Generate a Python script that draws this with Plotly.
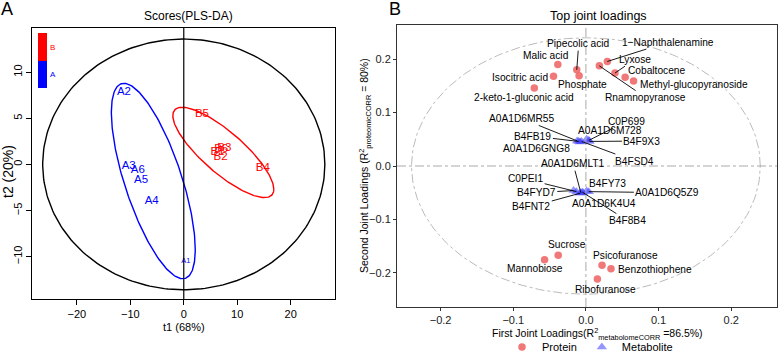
import numpy as np
import plotly.graph_objects as go

# ---------------- Panel A data (PLS-DA scores) ----------------
a_labels = ["A1", "A2", "A3", "A4", "A5", "A6"]
a_t1 = [0.4, -11.2, -10.3, -6.0, -8.0, -8.6]
a_t2 = [-10.5, 7.8, -0.2, -4.0, -1.7, -0.6]
b_labels = ["B1", "B2", "B3", "B4", "B5", "B6"]
b_t1 = [6.3, 6.9, 7.6, 14.8, 3.4, 7.0]
b_t2 = [1.3, 0.8, 1.8, -0.4, 5.5, 1.7]

# ellipses: centre x, centre y, var x, cov xy, var y
ell_a = [-5.7, -1.8, 61.6, -58.3, 112.4]
ell_b = [7.4, 1.3, 89.3, -37.7, 24.0]
ell_all = [0.0, 0.0, 26.4 ** 2, 0.0, 13.6 ** 2]

# ---------------- Panel B data (joint loadings) ----------------
prot_names = ["Malic acid", "Pipecolic acid", "Phosphate", "Isocitric acid",
              "2-keto-1-gluconic acid", "Rnamnopyranose", "1\u2212Naphthalenamine",
              "Lyxose", "Cobaltocene", "Methyl-glucopyranoside",
              "Sucrose", "Mannobiose", "Psicofuranose", "Benzothiophene", "Ribofuranose"]
prot_x = [-0.0387, -0.0126, -0.0094, -0.0446, -0.071, 0.0185, 0.0295,
          0.040, 0.054, 0.0656, -0.0381, -0.0569, 0.0222, 0.0345, 0.0158]
prot_y = [0.190, 0.180, 0.169, 0.168, 0.146, 0.1875, 0.1957,
          0.174, 0.166, 0.159, -0.167, -0.1757, -0.1857, -0.1925, -0.2118]
prot_lab_x = [-0.0546, -0.0099, -0.0044, -0.0903, -0.0853, 0.0826, 0.1136,
              0.0679, 0.098, 0.149, -0.0267, -0.0702, 0.0551, 0.0944, 0.0267]
prot_lab_y = [0.206, 0.229, 0.153, 0.166, 0.128, 0.128, 0.232,
              0.200, 0.179, 0.153, -0.1477, -0.192, -0.168, -0.194, -0.2305]
prot_seg = [False, True, False, False, False, True, True,
            True, False, False, False, False, False, False, False]

met_names = ["A0A1D6MR55", "B4FB19", "A0A1D6GNG8", "B4FSD4", "A0A1D6M728", "C0P699", "B4F9X3",
             "B4FYD7", "C0PEI1", "A0A1D6MLT1", "B4FNT2", "A0A1D6K4U4", "B4F8B4", "B4FY73", "A0A1D6Q5Z9"]
met_x = [-0.012, -0.010, -0.008, -0.006, 0.001, 0.004, 0.005,
         -0.017, -0.013, -0.007, -0.008, -0.004, -0.005, 0.001, 0.004]
met_y = [0.047, 0.046, 0.045, 0.046, 0.050, 0.048, 0.046,
         -0.046, -0.048, -0.050, -0.051, -0.050, -0.049, -0.047, -0.048]
met_lab_x = [-0.0889, -0.073, -0.0683, 0.0665, 0.0336, 0.0565, 0.0771,
             -0.0683, -0.083, -0.0176, -0.0752, 0.0254, 0.0573, 0.0299, 0.1122]
met_lab_y = [0.0891, 0.056, 0.0331, 0.0093, 0.066, 0.0841, 0.0467,
             -0.0499, -0.0243, 0.0043, -0.076, -0.0697, -0.1022, -0.0336, -0.0499]
met_seg = [True, True, False, True, False, True, True,
           True, True, True, True, False, True, False, True]

loading_circle = [0.0, 0.0, 0.24 ** 2, 0.0, 0.24 ** 2]

FONT = "Liberation Sans, Arial, sans-serif"
LAB = 10.2


def ellipse(p, n=240):
    cx, cy, sxx, sxy, syy = p
    L = np.linalg.cholesky(np.array([[sxx, sxy], [sxy, syy]]))
    t = np.linspace(0, 2 * np.pi, n)
    pts = L @ np.vstack([np.cos(t), np.sin(t)])
    return pts[0] + cx, pts[1] + cy


fig = go.Figure()

# ---- Panel A traces ----
for p, col in [(ell_all, "black"), (ell_a, "#0000FF"), (ell_b, "#FF0000")]:
    ex, ey = ellipse(p)
    fig.add_trace(go.Scatter(x=ex, y=ey, mode="lines", line=dict(color=col, width=1.4),
                             showlegend=False, hoverinfo="skip", xaxis="x", yaxis="y"))

a_sizes = [7.5 if l == "A1" else 11.5 for l in a_labels]
fig.add_trace(go.Scatter(x=a_t1, y=a_t2, mode="text", text=a_labels,
                         textfont=dict(color="#0000FF", size=a_sizes, family=FONT),
                         showlegend=False, xaxis="x", yaxis="y"))
fig.add_trace(go.Scatter(x=b_t1, y=b_t2, mode="text", text=b_labels,
                         textfont=dict(color="#FF0000", size=11.5, family=FONT),
                         showlegend=False, xaxis="x", yaxis="y"))

# ---- Panel B traces ----
cx_, cy_ = ellipse(loading_circle)
fig.add_trace(go.Scatter(x=cx_, y=cy_, mode="lines",
                         line=dict(color="#BBBBBB", width=1, dash="dashdot"),
                         showlegend=False, hoverinfo="skip", xaxis="x2", yaxis="y2"))
fig.add_trace(go.Scatter(x=prot_x, y=prot_y, mode="markers", name="Protein",
                         marker=dict(symbol="circle", size=7.5, color="rgba(240,105,105,0.9)"),
                         xaxis="x2", yaxis="y2"))
fig.add_trace(go.Scatter(x=met_x, y=met_y, mode="markers", name="Metabolite",
                         marker=dict(symbol="triangle-up", size=9, color="rgba(60,60,255,0.55)"),
                         xaxis="x2", yaxis="y2"))

annotations = []
for names, px_, py_, lx, ly, seg in [(prot_names, prot_x, prot_y, prot_lab_x, prot_lab_y, prot_seg),
                                     (met_names, met_x, met_y, met_lab_x, met_lab_y, met_seg)]:
    for n, x0, y0, x1, y1, s in zip(names, px_, py_, lx, ly, seg):
        if s:
            annotations.append(dict(x=x0, y=y0, ax=x1, ay=y1, xref="x2", yref="y2",
                                    axref="x2", ayref="y2", text=n, showarrow=True,
                                    arrowhead=0, arrowwidth=0.9, arrowcolor="black",
                                    standoff=0, startstandoff=0,
                                    font=dict(size=LAB, family=FONT, color="black")))
        else:
            annotations.append(dict(x=x1, y=y1, xref="x2", yref="y2", text=n, showarrow=False,
                                    xanchor="center", yanchor="middle",
                                    font=dict(size=LAB, family=FONT, color="black")))

W, H = 778, 352


def px(x):
    return x / W


def py(y):
    return 1 - y / H


def ptext(x, y, text, size, color="black", angle=0):
    return dict(x=px(x), y=py(y), text=text, showarrow=False, xref="paper", yref="paper",
                xanchor="center", yanchor="middle", textangle=angle,
                font=dict(size=size, family=FONT, color=color))


annotations += [
    ptext(7, 9, "A", 18),
    ptext(395, 9, "B", 18),
    ptext(188, 16, "Scores(PLS-DA)", 12),
    ptext(598, 16, "Top joint loadings", 12.5),
    ptext(184, 327, "t1 (68%)", 11),
    ptext(8, 172, "t2 (20%)", 14, angle=-90),
    ptext(597, 334, "First Joint Loadings(R<sup>2</sup><sub>metabolomeCORR</sub> =86.5%)", 10.5),
    ptext(365, 166, "Second Joint Loadings (R<sup>2</sup><sub>proteomicCORR</sub> = 80%)", 10.5,
          angle=-90),
    ptext(53, 47, "B", 8, "#FF0000"),
    ptext(53, 74, "A", 8, "#0000FF"),
]

shapes = [
    dict(type="line", xref="x", yref="y domain", x0=0, x1=0, y0=0, y1=1,
         line=dict(color="black", width=1.2)),
    dict(type="rect", xref="paper", yref="paper", x0=px(38), x1=px(47), y0=py(61), y1=py(33),
         fillcolor="#FF0000", line=dict(width=0)),
    dict(type="rect", xref="paper", yref="paper", x0=px(38), x1=px(47), y0=py(88), y1=py(61),
         fillcolor="#0000FF", line=dict(width=0)),
    dict(type="line", xref="x2", yref="y2 domain", x0=0, x1=0, y0=0, y1=1,
         line=dict(color="#AAAAAA", width=1, dash="dashdot")),
    dict(type="line", xref="x2 domain", yref="y2", x0=0, x1=1, y0=0, y1=0,
         line=dict(color="#AAAAAA", width=1, dash="dashdot")),
]

axA = dict(showgrid=False, zeroline=False, showline=True, mirror=True, linecolor="black",
           linewidth=1.2, ticks="outside", ticklen=5, tickcolor="black",
           tickfont=dict(size=11, family=FONT, color="black"), automargin=False)
axB = dict(showgrid=False, zeroline=False, showline=True, mirror=True, linecolor="#333333",
           linewidth=1, ticks="outside", ticklen=3, tickcolor="#333333",
           tickfont=dict(size=11, family=FONT, color="#222222"), tickformat=".1f",
           automargin=False)

fig.update_layout(
    width=W, height=H, margin=dict(l=0, r=0, t=0, b=0, autoexpand=False),
    plot_bgcolor="white", paper_bgcolor="white",
    font=dict(family=FONT),
    xaxis=dict(axA, domain=[px(32), px(335)], range=[-28.4, 28.3],
               tickvals=[-20, -10, 0, 10, 20], anchor="y"),
    yaxis=dict(axA, domain=[py(299), py(28)], range=[-14.6, 14.8],
               tickvals=[-10, -5, 0, 5, 10], tickangle=-90, anchor="x"),
    xaxis2=dict(axB, domain=[px(397), px(777)], range=[-0.26, 0.263],
                tickvals=[-0.2, -0.1, 0.0, 0.1, 0.2], anchor="y2"),
    yaxis2=dict(axB, domain=[py(307), py(25)], range=[-0.264, 0.264],
                tickvals=[-0.2, -0.1, 0.0, 0.1, 0.2], anchor="x2"),
    legend=dict(orientation="h", x=px(590), xanchor="center", y=py(347), yanchor="middle",
                font=dict(size=11, family=FONT, color="black"), bgcolor="rgba(0,0,0,0)",
                itemwidth=30),
    annotations=annotations,
    shapes=shapes,
)

fig.write_html("out.html",
               config={"displayModeBar": False},
               post_script="document.body.style.margin='0';"
                           "document.documentElement.style.overflow='hidden';")
